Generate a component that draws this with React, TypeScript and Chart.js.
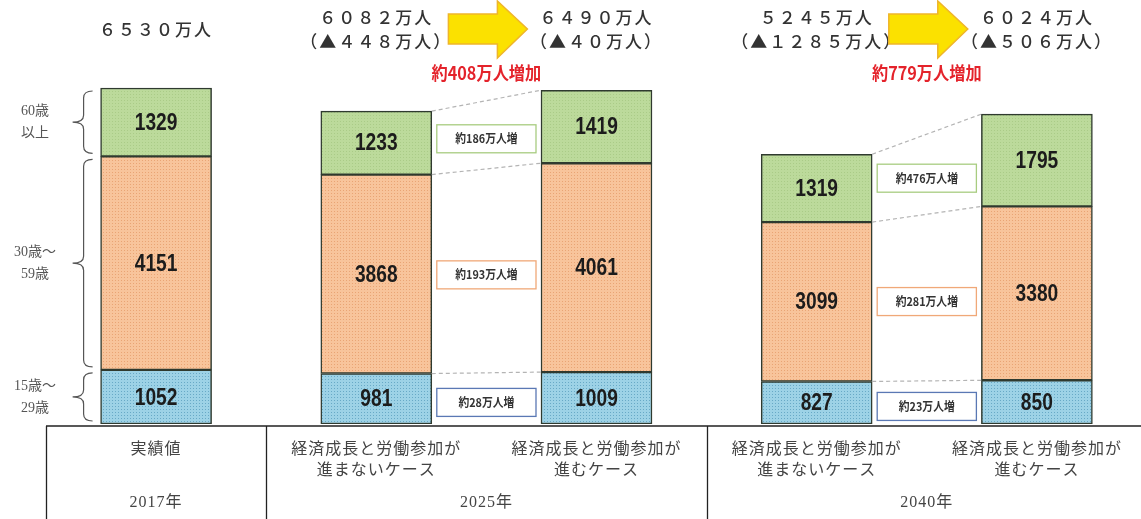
import React, { useEffect, useRef } from "react";
import { Chart, registerables } from "chart.js";

Chart.register(...registerables);

// ---- data ----
const categories = [
  "実績値",
  "経済成長と労働参加が\n進まないケース",
  "経済成長と労働参加が\n進むケース",
  "経済成長と労働参加が\n進まないケース",
  "経済成長と労働参加が\n進むケース",
];
const years = ["2017年", "2025年", "2040年"];
const yearGroups = [[0, 0], [1, 2], [3, 4]];
const ageLabels = ["15歳～\n29歳", "30歳～\n59歳", "60歳\n以上"];
const age15to29 = [1052, 981, 1009, 827, 850];
const age30to59 = [4151, 3868, 4061, 3099, 3380];
const age60plus = [1329, 1233, 1419, 1319, 1795];
const totals = [6530, 6082, 6490, 5245, 6024];
const changeFrom2017: (number | null)[] = [null, 448, 40, 1285, 506];
const comparePairs = [[1, 2], [3, 4]];
const pairIncreases = [408, 779];

const BAR_W = 111;
const JP = '"Noto Sans CJK JP", "Noto Sans", sans-serif';
const SERIF = '"Liberation Serif", "Noto Sans CJK JP", serif';
const NUMFONT = '"Liberation Sans", "Arial", sans-serif';

const toFW = (n: number) =>
  String(n).replace(/[0-9]/g, (c) => String.fromCharCode(c.charCodeAt(0) + 0xfee0));

function makePattern(base: string, dot: string) {
  const c = document.createElement("canvas");
  c.width = 3;
  c.height = 3;
  const g = c.getContext("2d")!;
  g.fillStyle = base;
  g.fillRect(0, 0, 3, 3);
  g.fillStyle = dot;
  g.fillRect(1, 1, 1, 1);
  return g.createPattern(c, "repeat")!;
}

function brace(ctx: CanvasRenderingContext2D, x: number, y1: number, y2: number) {
  const r = 7;
  const mid = (y1 + y2) / 2;
  ctx.beginPath();
  ctx.moveTo(x + 9, y1);
  ctx.quadraticCurveTo(x, y1, x, y1 + r);
  ctx.lineTo(x, mid - r);
  ctx.quadraticCurveTo(x, mid, x - 11, mid);
  ctx.quadraticCurveTo(x, mid, x, mid + r);
  ctx.lineTo(x, y2 - r);
  ctx.quadraticCurveTo(x, y2, x + 9, y2);
  ctx.stroke();
}

function narrowText(ctx: CanvasRenderingContext2D, s: string, x: number, y: number, sx: number) {
  ctx.save();
  ctx.translate(x, y);
  ctx.scale(sx, 1);
  ctx.fillText(s, 0, 0);
  ctx.restore();
}

const overlay = {
  id: "overlay",
  afterDatasetsDraw(chart: any) {
    const ctx: CanvasRenderingContext2D = chart.ctx;
    const xs = chart.scales.x;
    const area = chart.chartArea;
    const metas = [0, 1, 2].map((d) => chart.getDatasetMeta(d).data);
    const series = [age15to29, age30to59, age60plus];
    ctx.save();

    // value labels
    ctx.textAlign = "center";
    ctx.textBaseline = "middle";
    ctx.fillStyle = "#1c1c1c";
    ctx.font = `bold 24px ${NUMFONT}`;
    metas.forEach((els, d) => {
      els.forEach((el: any, i: number) => {
        narrowText(ctx, String(series[d][i]), el.x, (el.y + el.base) / 2 + 1, 0.8);
      });
    });

    // connectors and difference boxes
    const boxColors = ["#5a78b4", "#f0a878", "#a8cc80"];
    comparePairs.forEach(([a, b]) => {
      metas.forEach((els) => {
        const A = els[a], B = els[b];
        ctx.strokeStyle = "#b4b4b4";
        ctx.lineWidth = 1.2;
        ctx.setLineDash([4, 3]);
        ctx.beginPath();
        ctx.moveTo(A.x + A.width / 2, A.y);
        ctx.lineTo(B.x - B.width / 2, B.y);
        ctx.stroke();
        ctx.setLineDash([]);
      });
      metas.forEach((els, d) => {
        const A = els[a], B = els[b];
        const yc = ((A.y + A.base) / 2 + (B.y + B.base) / 2) / 2 + 4;
        const x1 = A.x + A.width / 2 + 5;
        const x2 = B.x - B.width / 2 - 5;
        ctx.fillStyle = "#ffffff";
        ctx.fillRect(x1, yc - 14, x2 - x1, 28);
        ctx.strokeStyle = boxColors[d];
        ctx.lineWidth = 1.3;
        ctx.strokeRect(x1, yc - 14, x2 - x1, 28);
        ctx.fillStyle = "#333";
        ctx.font = `bold 12px ${JP}`;
        ctx.textAlign = "center";
        ctx.textBaseline = "middle";
        narrowText(ctx, `約${series[d][b] - series[d][a]}万人増`, (x1 + x2) / 2, yc, 0.9);
      });
    });

    // top totals
    ctx.fillStyle = "#333";
    ctx.font = `500 17px ${JP}`;
    (ctx as any).letterSpacing = "2px";
    totals.forEach((t, i) => {
      const x = xs.getPixelForValue(i);
      const ch = changeFrom2017[i];
      if (ch === null) {
        ctx.fillText(`${toFW(t)}万人`, x, 30);
      } else {
        ctx.fillText(`${toFW(t)}万人`, x, 18);
        ctx.fillText(`（▲${toFW(ch)}万人）`, x, 42);
      }
    });
    (ctx as any).letterSpacing = "0px";

    // arrows and increase labels
    comparePairs.forEach(([a, b], k) => {
      const m = (xs.getPixelForValue(a) + xs.getPixelForValue(b)) / 2;
      ctx.beginPath();
      ctx.moveTo(m - 38, 14);
      ctx.lineTo(m + 11, 14);
      ctx.lineTo(m + 11, 1);
      ctx.lineTo(m + 41, 29);
      ctx.lineTo(m + 11, 58);
      ctx.lineTo(m + 11, 44);
      ctx.lineTo(m - 38, 44);
      ctx.closePath();
      ctx.fillStyle = "#fbe100";
      ctx.fill();
      ctx.strokeStyle = "#efb52a";
      ctx.lineWidth = 1.5;
      ctx.stroke();
      ctx.fillStyle = "#e4232b";
      ctx.font = `bold 18px ${JP}`;
      narrowText(ctx, `約${pairIncreases[k]}万人増加`, m, 73, 0.9);
    });

    // braces and age labels on the left of the first bar
    ctx.strokeStyle = "#555";
    ctx.lineWidth = 1.2;
    metas.forEach((els, d) => {
      const el = els[0];
      const bx = el.x - el.width / 2 - 17;
      brace(ctx, bx, el.y + 3, el.base - 3);
      const mid = (el.y + el.base) / 2;
      const lines = ageLabels[d].split("\n");
      ctx.fillStyle = "#555";
      ctx.font = `14px ${SERIF}`;
      lines.forEach((ln, j) => {
        ctx.fillText(ln, 35, mid + (j - (lines.length - 1) / 2) * 22);
      });
    });

    // bottom table
    const top = area.bottom + 2;
    const xl = xs.getPixelForValue(-0.5);
    ctx.strokeStyle = "#222";
    ctx.lineWidth = 1.3;
    ctx.beginPath();
    ctx.moveTo(xl, top);
    ctx.lineTo(chart.width, top);
    [-0.5, 0.5, 2.5].forEach((v) => {
      const x = Math.round(xs.getPixelForValue(v)) + 0.5;
      ctx.moveTo(x, top);
      ctx.lineTo(x, chart.height);
    });
    ctx.stroke();

    ctx.fillStyle = "#444";
    ctx.font = `16px ${SERIF}`;
    (ctx as any).letterSpacing = "1px";
    categories.forEach((c, i) => {
      const x = xs.getPixelForValue(i);
      c.split("\n").forEach((ln, j) => ctx.fillText(ln, x, 450 + j * 21));
    });
    years.forEach((y, g) => {
      const [a, b] = yearGroups[g];
      const x = (xs.getPixelForValue(a) + xs.getPixelForValue(b)) / 2;
      ctx.fillText(y, x, 503);
    });
    (ctx as any).letterSpacing = "0px";
    ctx.restore();
  },
};

export default function App() {
  const ref = useRef<HTMLCanvasElement>(null);
  useEffect(() => {
    const canvas = ref.current!;
    const green = makePattern("#bcda9b", "#aacb87");
    const orange = makePattern("#f8c49b", "#e9a474");
    const blue = makePattern("#9dd2e6", "#68a9c6");
    const mk = (label: string, vals: number[], bg: any) => ({
      label,
      data: vals.map((v, i) => ({ x: i, y: v })),
      backgroundColor: bg,
      borderColor: "#2f3a2f",
      borderWidth: 1.5,
      borderSkipped: false as any,
      barThickness: BAR_W,
    });
    const chart = new Chart(canvas, {
      type: "bar",
      data: {
        datasets: [
          mk(ageLabels[0], age15to29, blue),
          mk(ageLabels[1], age30to59, orange),
          mk(ageLabels[2], age60plus, green),
        ],
      } as any,
      options: {
        animation: false,
        responsive: true,
        maintainAspectRatio: false,
        layout: { padding: { left: 46, right: 0, top: 0, bottom: 95 } },
        plugins: { legend: { display: false }, tooltip: { enabled: false } },
        scales: {
          x: { type: "linear", min: -0.5, max: 4.4728, offset: false, stacked: true, display: false },
          y: { min: 0, max: 8243, stacked: true, display: false },
        },
      },
      plugins: [overlay],
    });
    return () => chart.destroy();
  }, []);
  return (
    <div style={{ position: "fixed", left: 0, top: 0, width: 1141, height: 519, background: "#fff" }}>
      <canvas ref={ref} />
    </div>
  );
}
